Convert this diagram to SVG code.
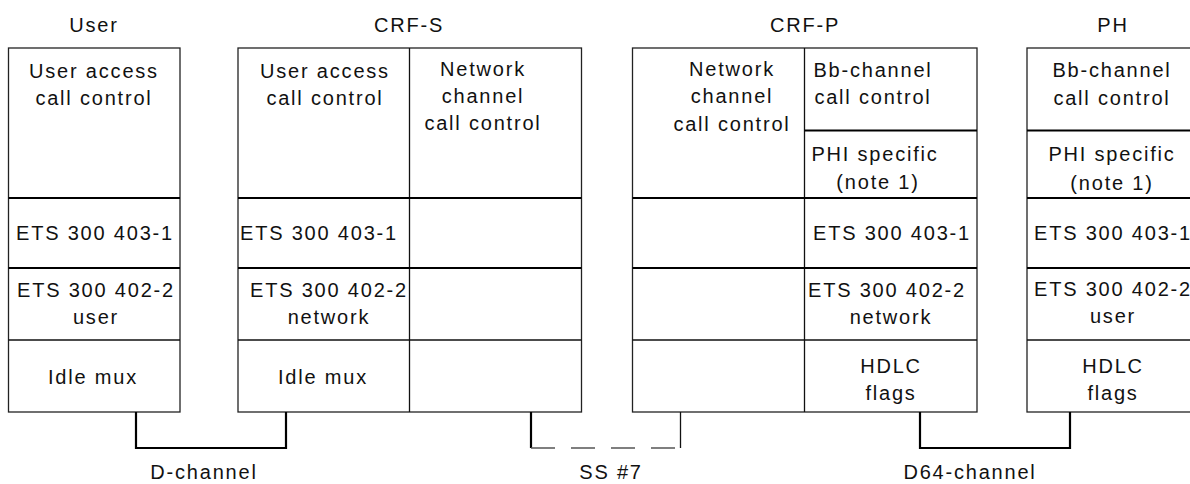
<svg xmlns="http://www.w3.org/2000/svg" width="1190" height="484" viewBox="0 0 1190 484">
<style>
text{font-family:"Liberation Sans",Arial,sans-serif;font-size:20px;letter-spacing:1.8px;text-anchor:middle;fill:#111}
.box{fill:#fff;stroke:#222;stroke-width:1.3}
.thick{stroke:#000;stroke-width:2.2;fill:none}
.thin{stroke:#111;stroke-width:1.3;fill:none}
.conn{stroke:#000;stroke-width:2.2;fill:none}
.dash{stroke:#555;stroke-width:1.6;fill:none;stroke-dasharray:24 16}
</style>
<rect width="1190" height="484" fill="#fff"/>

<g id="user">
<text x="94" y="31.5">User</text>
<rect class="box" x="8.5" y="48" width="171.5" height="364"/>
<line class="thick" x1="8.5" y1="198" x2="180" y2="198"/>
<line class="thick" x1="8.5" y1="268" x2="180" y2="268"/>
<line class="thin" x1="8.5" y1="340" x2="180" y2="340"/>
<text x="94" y="78">User access</text>
<text x="94" y="104.5">call control</text>
<text x="95" y="239.5">ETS 300 403-1</text>
<text x="96" y="296.5">ETS 300 402-2</text>
<text x="96" y="323.5">user</text>
<text x="93" y="384">Idle mux</text>
</g>

<g id="crf-s">
<text x="409" y="31.5">CRF-S</text>
<rect class="box" x="238" y="48" width="343.5" height="364"/>
<line class="thin" x1="409.5" y1="48" x2="409.5" y2="412"/>
<line class="thick" x1="238" y1="198" x2="581.5" y2="198"/>
<line class="thick" x1="238" y1="268" x2="581.5" y2="268"/>
<line class="thin" x1="238" y1="340" x2="581.5" y2="340"/>
<text x="325" y="78">User access</text>
<text x="325" y="104.5">call control</text>
<text x="483" y="76">Network</text>
<text x="483" y="102.5">channel</text>
<text x="483" y="130">call control</text>
<text x="319" y="239.5">ETS 300 403-1</text>
<text x="329" y="296.5">ETS 300 402-2</text>
<text x="329" y="323.5">network</text>
<text x="323" y="384">Idle mux</text>
</g>

<g id="crf-p">
<text x="805" y="31.5">CRF-P</text>
<rect class="box" x="632.5" y="48" width="344.5" height="364"/>
<line class="thin" x1="804.5" y1="48" x2="804.5" y2="412"/>
<line class="thick" x1="804.5" y1="130.5" x2="977" y2="130.5"/>
<line class="thick" x1="632.5" y1="198" x2="977" y2="198"/>
<line class="thick" x1="632.5" y1="268" x2="977" y2="268"/>
<line class="thin" x1="632.5" y1="340" x2="977" y2="340"/>
<text x="732" y="76">Network</text>
<text x="732" y="103">channel</text>
<text x="732" y="131">call control</text>
<text x="873" y="77">Bb-channel</text>
<text x="873" y="104">call control</text>
<text x="875" y="161">PHI specific</text>
<text x="878" y="189">(note 1)</text>
<text x="892" y="239.5">ETS 300 403-1</text>
<text x="887" y="296.5">ETS 300 402-2</text>
<text x="891" y="323.5">network</text>
<text x="891" y="373">HDLC</text>
<text x="891" y="400">flags</text>
</g>

<g id="ph">
<text x="1113" y="31.5">PH</text>
<rect class="box" x="1027" y="48" width="172" height="364"/>
<line class="thick" x1="1027" y1="130.5" x2="1199" y2="130.5"/>
<line class="thick" x1="1027" y1="198" x2="1199" y2="198"/>
<line class="thick" x1="1027" y1="268" x2="1199" y2="268"/>
<line class="thin" x1="1027" y1="340" x2="1199" y2="340"/>
<text x="1112" y="77">Bb-channel</text>
<text x="1112" y="105">call control</text>
<text x="1112" y="161">PHI specific</text>
<text x="1112" y="190">(note 1)</text>
<text x="1113" y="239.5">ETS 300 403-1</text>
<text x="1113" y="296">ETS 300 402-2</text>
<text x="1113" y="323">user</text>
<text x="1113" y="373">HDLC</text>
<text x="1113" y="400">flags</text>
</g>

<g id="connectors">
<path class="conn" d="M136 412 V448 H286 V412"/>
<path class="conn" d="M531 412 V448"/>
<path class="dash" d="M531 448 H677"/>
<path class="thin" d="M680.5 412 V448"/>
<path class="conn" d="M920 412 V448 H1070 V412"/>
</g>

<g id="labels">
<text x="204" y="479">D-channel</text>
<text x="611" y="479">SS #7</text>
<text x="970" y="479">D64-channel</text>
</g>
</svg>
